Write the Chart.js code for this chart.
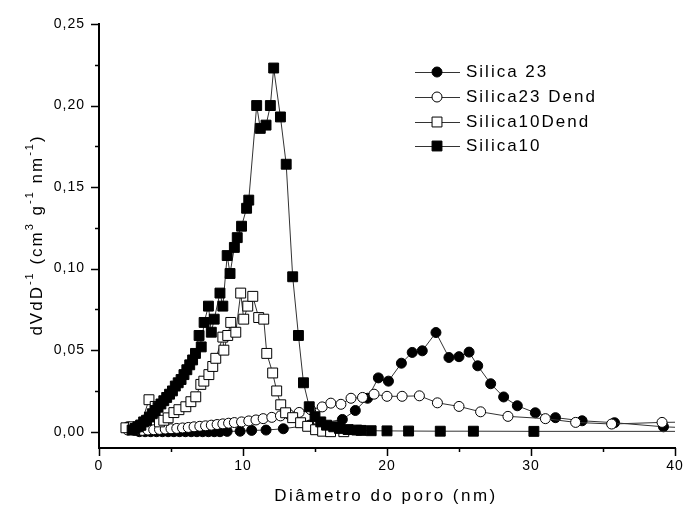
<!DOCTYPE html>
<html>
<head>
<meta charset="utf-8">
<script src="https://cdn.jsdelivr.net/npm/chart.js@4/dist/chart.umd.min.js"></script>
<style>
  html, body { margin: 0; padding: 0; background: #fff; }
  canvas { display: block; }
</style>
</head>
<body>
<canvas id="chart" width="686" height="519"></canvas>
<script>
// pore size distributions, dV/dD vs pore diameter (nm)
const seriesNames = ["Silica 23", "Silica23 Dend", "Silica10Dend", "Silica10"];

const silica23X = [2.0, 2.4, 2.8, 3.2, 3.6, 4.0, 4.4, 4.8, 5.2, 5.6, 6.0, 6.4, 6.8, 7.2, 7.6, 8.0, 8.4, 8.9, 9.8, 10.6,
  11.6, 12.8, 14.6, 16.9, 17.8, 18.65, 19.4, 20.1, 21.0, 21.75, 22.45, 23.4, 24.3, 25.0, 25.7, 26.3, 27.2, 28.1, 29.05, 30.3,
  31.7, 33.55, 35.8, 39.2, 42];
const silica23Y = [0.003, 0.001, 0, 0, 0, 0, 0, 0, 0, 0, 0, 0, 0, 0, 0, 0, 0, 0.0002, 0.0003, 0.0008,
  0.001, 0.0018, 0.004, 0.0075, 0.013, 0.0205, 0.033, 0.031, 0.042, 0.0486, 0.0496, 0.0608, 0.0455, 0.046, 0.0488, 0.0404, 0.0294, 0.0213, 0.0159, 0.0116,
  0.0086, 0.0067, 0.0055, 0.003, 0.002];

const silica23DendX = [2.0, 2.5, 3.0, 3.4, 3.8, 4.2, 4.6, 5.0, 5.4, 5.8, 6.2, 6.6, 7.0, 7.4, 7.8, 8.2, 8.6, 9.0, 9.4, 9.9,
  10.4, 10.9, 11.4, 12.0, 12.6, 13.2, 13.9, 14.7, 15.5, 16.1, 16.8, 17.5, 18.3, 19.1, 20.0, 21.05, 22.25, 23.5, 25.0, 26.5,
  28.4, 31.0, 33.1, 35.6, 39.1, 42];
const silica23DendY = [0.001, 0.0008, 0.0008, 0.001, 0.0012, 0.0014, 0.0016, 0.0018, 0.002, 0.0023, 0.0026, 0.003, 0.0033, 0.0036, 0.004, 0.0044, 0.0048, 0.0052, 0.0056, 0.006,
  0.0066, 0.0072, 0.008, 0.0088, 0.0097, 0.0106, 0.0118, 0.0135, 0.0152, 0.0175, 0.0168, 0.0205, 0.021, 0.023, 0.0217, 0.0217, 0.022, 0.0177, 0.0155, 0.0122,
  0.0094, 0.008, 0.0057, 0.0047, 0.0057, 0.006];

const silica10DendX = [1.87, 2.4, 2.9, 3.47, 3.9, 4.2, 4.5, 4.8, 5.2, 5.55, 6.03, 6.38, 6.72, 7.07, 7.28, 7.63, 7.9, 8.11, 8.6, 8.67,
  8.94, 9.15, 9.5, 9.84, 10.05, 10.33, 10.68, 11.09, 11.44, 11.65, 12.06, 12.34, 12.62, 12.96, 13.45, 14.0, 14.49, 15.04, 15.53, 16.08, 17.0];
const silica10DendY = [0.0024, 0.003, 0.004, 0.0196, 0.0155, 0.006, 0.007, 0.0085, 0.0117, 0.0135, 0.0153, 0.0184, 0.0214, 0.029, 0.031, 0.035, 0.040, 0.045, 0.058, 0.050,
  0.059, 0.067, 0.061, 0.085, 0.069, 0.077, 0.083, 0.070, 0.069, 0.048, 0.036, 0.025, 0.0165, 0.0116, 0.0086, 0.0055, 0.0033, 0.0012, 0.0003, 0.0, 0.0];

const silica10X = [2.3, 2.5, 2.7, 2.9, 3.1, 3.3, 3.5, 3.7, 3.9, 4.1, 4.3, 4.5, 4.7, 4.9, 5.1, 5.3, 5.5, 5.7, 5.9, 6.1,
  6.3, 6.5, 6.7, 6.95, 7.1, 7.3, 7.6, 7.8, 8.0, 8.4, 8.6, 8.9, 9.1, 9.4, 9.6, 9.9, 10.25, 10.4, 10.95, 11.2,
  11.6, 11.9, 12.13, 12.6, 13.0, 13.45, 13.85, 14.2, 14.6, 15.0, 15.4, 15.8, 16.3, 16.7, 17.3, 17.9, 18.2, 18.9, 20.0, 21.5,
  23.7, 26.0, 30.2, 42];
const silica10Y = [0.001, 0.002, 0.003, 0.004, 0.006, 0.007, 0.009, 0.011, 0.013, 0.015, 0.017, 0.019, 0.021, 0.023, 0.025, 0.028, 0.030, 0.032, 0.035, 0.038,
  0.041, 0.044, 0.048, 0.059, 0.052, 0.067, 0.077, 0.061, 0.069, 0.085, 0.077, 0.108, 0.097, 0.113, 0.119, 0.126, 0.137, 0.142, 0.200, 0.186,
  0.188, 0.200, 0.223, 0.193, 0.164, 0.095, 0.059, 0.030, 0.0153, 0.0092, 0.006, 0.004, 0.003, 0.002, 0.0013, 0.001, 0.0008, 0.0006, 0.0005, 0.0004,
  0.0003, 0.0003, 0.0002, 0.0002];

const xTicks = [0, 10, 20, 30, 40];
const yTicks = [0, 0.05, 0.10, 0.15, 0.20, 0.25];

const FONT = "'Liberation Sans', Arial, sans-serif";

function pts(xs, ys) {
  return xs.map((x, i) => ({ x: x, y: ys[i] }));
}

function series(label, xs, ys, style, radius, fill, order) {
  return {
    label: label,
    data: pts(xs, ys),
    showLine: true,
    borderColor: "#333",
    borderWidth: 1,
    pointStyle: style,
    pointRadius: radius,
    pointBackgroundColor: fill,
    pointBorderColor: "#000",
    pointBorderWidth: 1,
    order: order,
  };
}

const datasets = [
  series(seriesNames[0], silica23X, silica23Y, "circle", 5, "#000", 4),
  series(seriesNames[1], silica23DendX, silica23DendY, "circle", 5, "#fff", 3),
  series(seriesNames[2], silica10DendX, silica10DendY, "rect", 7, "#fff", 2),
  series(seriesNames[3], silica10X, silica10Y, "rect", 7, "#000", 1),
];

// tick marks (major + minor), axis titles and the legend box
const decor = {
  id: "decor",
  beforeDraw(chart) {
    chart.ctx.letterSpacing = "1px";
  },
  afterDraw(chart) {
    const { ctx } = chart;
    const x = chart.scales.x, y = chart.scales.y;
    ctx.save();
    ctx.strokeStyle = "#000";
    ctx.lineWidth = 1.5;
    ctx.beginPath();
    for (let i = 0; i < xTicks.length; i++) {
      const px = Math.round(x.getPixelForValue(xTicks[i])) + 0.5;
      ctx.moveTo(px, x.top); ctx.lineTo(px, x.top + 8);
      if (i < xTicks.length - 1) {
        const mx = Math.round(x.getPixelForValue((xTicks[i] + xTicks[i + 1]) / 2)) + 0.5;
        ctx.moveTo(mx, x.top); ctx.lineTo(mx, x.top + 4);
      }
    }
    for (let i = 0; i < yTicks.length; i++) {
      const py = Math.round(y.getPixelForValue(yTicks[i])) + 0.5;
      ctx.moveTo(y.right, py); ctx.lineTo(y.right - 8, py);
      if (i < yTicks.length - 1) {
        const my = Math.round(y.getPixelForValue((yTicks[i] + yTicks[i + 1]) / 2)) + 0.5;
        ctx.moveTo(y.right, my); ctx.lineTo(y.right - 4, my);
      }
    }
    ctx.stroke();

    // x title
    ctx.fillStyle = "#000";
    ctx.letterSpacing = "2.5px";
    ctx.font = "17px " + FONT;
    ctx.textAlign = "center";
    ctx.textBaseline = "middle";
    ctx.fillText("Diâmetro do poro (nm)", 386, 496);

    // y title with superscripts
    const parts = [["dVdD", 0], ["-1", 1], [" (cm", 0], ["3", 1], [" g", 0], ["-1", 1], [" nm", 0], ["-1", 1], [")", 0]];
    const big = "17px " + FONT, small = "11px " + FONT;
    ctx.letterSpacing = "2px";
    let total = 0;
    parts.forEach(p => { ctx.font = p[1] ? small : big; total += ctx.measureText(p[0]).width; });
    ctx.translate(37, 235);
    ctx.rotate(-Math.PI / 2);
    ctx.textAlign = "left";
    let cx = -total / 2;
    parts.forEach(p => {
      ctx.font = p[1] ? small : big;
      ctx.fillText(p[0], cx, p[1] ? -7 : 0);
      cx += ctx.measureText(p[0]).width;
    });
    ctx.setTransform(1, 0, 0, 1, 0, 0);

    // legend
    const rows = [72, 97, 122, 146];
    chart.data.datasets.forEach((ds, i) => {
      const ly = rows[i];
      ctx.strokeStyle = "#333";
      ctx.lineWidth = 1;
      ctx.beginPath();
      ctx.moveTo(415, ly + 0.5); ctx.lineTo(460, ly + 0.5);
      ctx.stroke();
      ctx.fillStyle = ds.pointBackgroundColor;
      ctx.strokeStyle = "#000";
      Chart.helpers.drawPoint(ctx, { pointStyle: ds.pointStyle, radius: ds.pointRadius, borderWidth: 1 }, 437, ly);
      ctx.fillStyle = "#000";
      ctx.letterSpacing = "2px";
      ctx.font = "17px " + FONT;
      ctx.textAlign = "left";
      ctx.textBaseline = "middle";
      ctx.fillText(ds.label, 466, ly);
    });
    ctx.restore();
  },
};

function commaLabel(v) {
  return v.toFixed(2).replace(".", ",");
}

new Chart(document.getElementById("chart").getContext("2d"), {
  type: "scatter",
  data: { datasets: datasets },
  options: {
    responsive: false,
    animation: false,
    layout: { padding: { left: 0, top: 24, right: 11, bottom: 0 } },
    plugins: { legend: { display: false }, tooltip: { enabled: false } },
    scales: {
      x: {
        type: "linear",
        min: 0,
        max: 40,
        afterBuildTicks: s => { s.ticks = xTicks.map(v => ({ value: v })); },
        afterFit: s => { s.height = 71; s.paddingLeft = 0; s.paddingRight = 0; },
        grid: { display: false },
        border: { display: true, color: "#000", width: 2 },
        ticks: { padding: 2, color: "#000", font: { family: FONT, size: 14 }, maxRotation: 0, callback: v => String(v) },
      },
      y: {
        type: "linear",
        min: -0.01,
        max: 0.25,
        afterBuildTicks: s => { s.ticks = yTicks.map(v => ({ value: v })); },
        afterFit: s => { s.width = 99; s.paddingTop = 0; s.paddingBottom = 0; },
        grid: { display: false },
        border: { display: true, color: "#000", width: 2 },
        ticks: { padding: 6, color: "#000", font: { family: FONT, size: 14 }, callback: v => commaLabel(v) },
      },
    },
  },
  plugins: [decor],
});
</script>
</body>
</html>
